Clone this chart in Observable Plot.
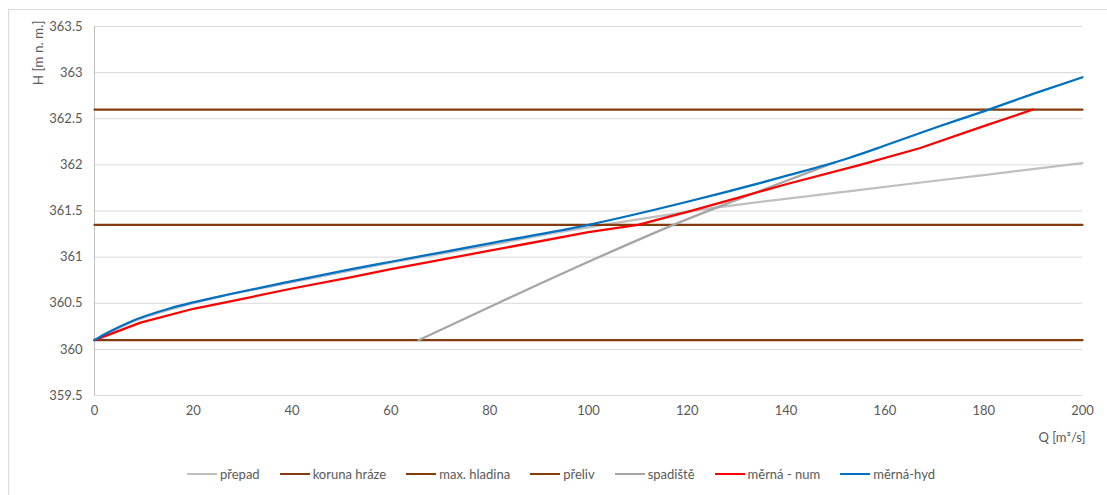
<!DOCTYPE html>
<html>
<head>
<meta charset="utf-8">
<script src="https://cdn.jsdelivr.net/npm/d3@7"></script>
<script src="https://cdn.jsdelivr.net/npm/@observablehq/plot@0.6"></script>
<style>
  body { margin: 0; width: 1107px; height: 495px; overflow: hidden; background: #fff; position: relative; font-family: Lato, "Open Sans", sans-serif; }
  #frame { position: absolute; left: 8px; top: 9px; width: 1300px; height: 700px; border: 1px solid #d9d9d9; }
  #chart { position: absolute; left: 0; top: 0; }
  #legend { position: absolute; left: 0; top: 466px; width: 1122px; display: flex; justify-content: center; gap: 20px; font-size: 13px; color: #595959; }
  .item { display: flex; align-items: center; gap: 3px; white-space: nowrap; }
  .sw { width: 30px; height: 2px; display: inline-block; }
</style>
</head>
<body>
<div id="frame"></div>
<div id="chart"></div>
<div id="legend"></div>
<script>
// ---- data ----
const xTicks = [0, 20, 40, 60, 80, 100, 120, 140, 160, 180, 200];
const yTicks = [359.5, 360, 360.5, 361, 361.5, 362, 362.5, 363, 363.5];

const seriesNames = ["přepad", "koruna hráze", "max. hladina", "přeliv", "spadiště", "měrná - num", "měrná-hyd"];
const seriesColors = ["#bfbfbf", "#843c0c", "#843c0c", "#843c0c", "#a5a5a5", "#ff0000", "#0070c0"];

const prepadQ = [0, 7.3, 20, 40, 60, 80, 94, 110, 125, 155, 180, 200];
const prepadH = [360.1, 360.29, 360.5, 360.73, 360.94, 361.13, 361.27, 361.41, 361.53, 361.73, 361.89, 362.02];

const levelQ = [0, 200];
const korunaH = 362.6;
const maxHladinaH = 361.35;
const prelivH = 360.1;

const spadisteQ = [65.6, 80, 100, 117.2, 134.8, 150];
const spadisteH = [360.1, 360.46, 360.95, 361.35, 361.72, 362.03];

const numQ = [0, 9.3, 20, 27.5, 40, 51.8, 60, 80, 100, 110, 120, 130, 140, 155, 167, 180, 190];
const numH = [360.1, 360.29, 360.44, 360.52, 360.66, 360.78, 360.87, 361.07, 361.27, 361.35, 361.49, 361.64, 361.79, 362.0, 362.18, 362.42, 362.6];

const hydQ = [0, 3, 7.3, 15, 20, 27.5, 40, 52, 60, 80, 100, 120, 140, 153, 160, 170, 180, 190, 200];
const hydH = [360.1, 360.19, 360.3, 360.44, 360.51, 360.6, 360.74, 360.87, 360.95, 361.15, 361.35, 361.6, 361.88, 362.08, 362.21, 362.4, 362.58, 362.77, 362.95];

// ---- build ----
const pts = (Q, H) => Q.map((q, i) => ({q, h: Array.isArray(H) ? H[i] : H}));
const series = [
  {data: pts(prepadQ, prepadH), curve: "monotone-x"},
  {data: pts(levelQ, korunaH), curve: "linear"},
  {data: pts(levelQ, maxHladinaH), curve: "linear"},
  {data: pts(levelQ, prelivH), curve: "linear"},
  {data: pts(spadisteQ, spadisteH), curve: "monotone-x"},
  {data: pts(numQ, numH), curve: "linear"},
  {data: pts(hydQ, hydH), curve: "monotone-x"}
];

const lineMarks = series.map((s, i) =>
  Plot.line(s.data, {x: "q", y: "h", stroke: seriesColors[i], strokeWidth: 2.25, curve: s.curve})
);

const plot = Plot.plot({
  width: 1107,
  height: 450,
  marginLeft: 94,
  marginRight: 25,
  marginTop: 26,
  marginBottom: 55,
  style: {fontFamily: "Lato, 'Open Sans', sans-serif", fontSize: "13px", color: "#595959", background: "transparent"},
  x: {domain: [0, 200]},
  y: {domain: [359.5, 363.5]},
  marks: [
    Plot.gridY(yTicks, {stroke: "#d9d9d9", strokeOpacity: 1}),
    Plot.ruleX([0], {stroke: "#bfbfbf"}),
    Plot.axisY(yTicks, {tickSize: 0, tickPadding: 12, tickFormat: d => String(d), label: null, fontSize: 13}),
    Plot.axisX(xTicks, {tickSize: 0, tickPadding: 10, tickFormat: d => String(d), label: null, fontSize: 13}),
    ...lineMarks,
    Plot.text(["H [m n. m.]"], {frameAnchor: "top-left", dx: -61, dy: -6, rotate: -90, textAnchor: "end", fontSize: 13.5, fill: "#595959"}),
    Plot.text(["Q [m³/s]"], {frameAnchor: "bottom-right", dx: 3, dy: 46, textAnchor: "end", fontSize: 13, fill: "#595959"})
  ]
});
document.getElementById("chart").appendChild(plot);

const legend = document.getElementById("legend");
seriesNames.forEach((name, i) => {
  const item = document.createElement("span");
  item.className = "item";
  const sw = document.createElement("span");
  sw.className = "sw";
  sw.style.background = seriesColors[i];
  const t = document.createElement("span");
  t.textContent = name;
  item.appendChild(sw);
  item.appendChild(t);
  legend.appendChild(item);
});
</script>
</body>
</html>
